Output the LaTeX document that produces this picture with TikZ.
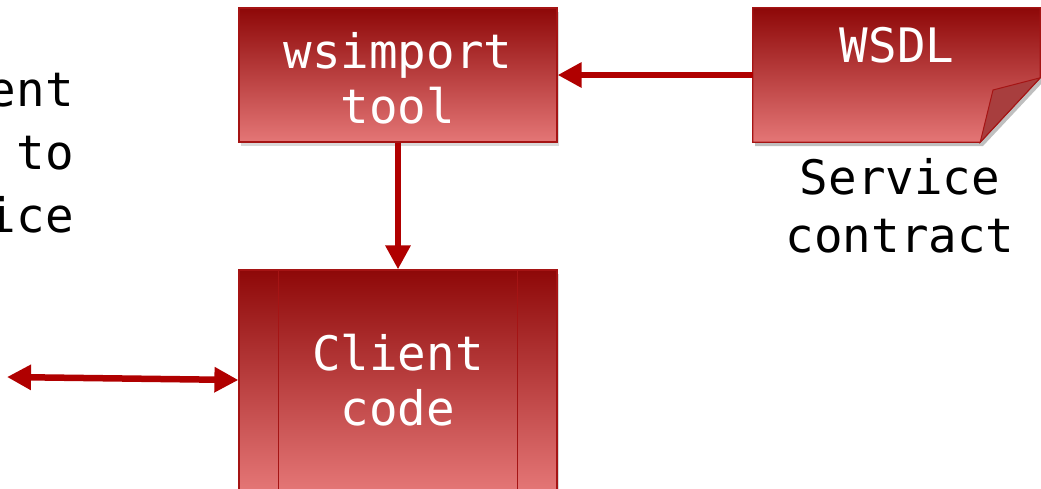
\documentclass[tikz,border=0pt]{standalone}
\usepackage{fontspec}
\setmonofont{DejaVu Sans Mono}
\usetikzlibrary{arrows.meta,shadows,calc}

\definecolor{boxtop}{RGB}{142,8,8}
\definecolor{boxbot}{RGB}{228,118,118}
\definecolor{boxedge}{RGB}{165,20,20}
\definecolor{arrowred}{RGB}{176,0,0}
\definecolor{foldred}{RGB}{168,62,62}

\tikzset{
  redbox/.style={rectangle, draw=boxedge, line width=1.2pt,
    top color=boxtop, bottom color=boxbot,
    drop shadow={opacity=0.3, shadow xshift=2pt, shadow yshift=-4pt},
    text=white, align=center, font=\ttfamily\fontsize{47.5}{55}\selectfont,
    inner sep=0pt},
  plaintext/.style={text=black, font=\ttfamily\fontsize{47.5}{58}\selectfont, inner sep=0pt},
  flow/.style={draw=arrowred, line width=6.5pt,
    -{Triangle[length=24pt,width=24pt]}},
  bothflow/.style={draw=arrowred, line width=6.5pt,
    {Triangle[length=24pt,width=24pt]}-{Triangle[length=24pt,width=24pt]}},
}

\begin{document}
\begin{tikzpicture}[x=1pt,y=-1pt]
  \useasboundingbox (0,0) rectangle (1041,488);

  % text on the left, running past the edge
  \node[plaintext, align=right, anchor=north east,
        font=\ttfamily\fontsize{47.5}{63}\selectfont] (lefttext) at (74,70)
    {Client\\ connects to\\ service};

  % wsimport tool
  \node[redbox, minimum width=318pt, minimum height=134pt] (wsimport)
    at (398,75) {};
  \node[text=white, align=center, font=\ttfamily\fontsize{47.5}{55}\selectfont, inner sep=0pt]
    (wsimportlabel) at (398,78) {wsimport\\tool};

  % client code box with side bars (runs to the bottom edge)
  \node[redbox, minimum width=318pt, minimum height=220pt] (client)
    at (398,380) {};
  \draw[boxedge, line width=1.5pt] ($(client.north west)+(40,0)$) -- ($(client.south west)+(40,0)$);
  \draw[boxedge, line width=1.5pt] ($(client.north east)+(-40,0)$) -- ($(client.south east)+(-40,0)$);
  \node[text=white, align=center, font=\ttfamily\fontsize{47.5}{55}\selectfont, inner sep=0pt]
    (clientlabel) at (398,380) {Client\\code};

  % WSDL document with folded corner
  \node[minimum width=287pt, minimum height=134pt, inner sep=0pt] (wsdl) at (896.5,75) {};
  \fill[black, opacity=0.25] (755,12) -- (1043,12) -- (1043,82) -- (983,146) -- (755,146) -- cycle;
  \shade[top color=boxtop, bottom color=boxbot, draw=boxedge, line width=1.2pt]
    (wsdl.north west) -- (wsdl.north east) -- ($(wsdl.north east)+(0,70)$)
    -- ($(wsdl.south east)+(-60,0)$) -- (wsdl.south west) -- cycle;
  \fill[foldred, draw=boxedge, line width=1pt]
    ($(wsdl.north east)+(0,70)$) -- (993,90) -- ($(wsdl.south east)+(-60,0)$) -- cycle;
  \node[text=white, font=\ttfamily\fontsize{47.5}{55}\selectfont, inner sep=0pt]
    (wsdllabel) at (897,45) {WSDL};

  \node[plaintext, align=center] (contract) at (900,206) {Service\\contract};

  % connectors
  \draw[flow] (wsdl.west) -- (wsimport.east);
  \draw[flow] (wsimport.south) -- (client.north);
  \coordinate (leftend) at (7,377);
  \draw[bothflow] (leftend) -- (client.west |- 0,380);
\end{tikzpicture}
\end{document}
